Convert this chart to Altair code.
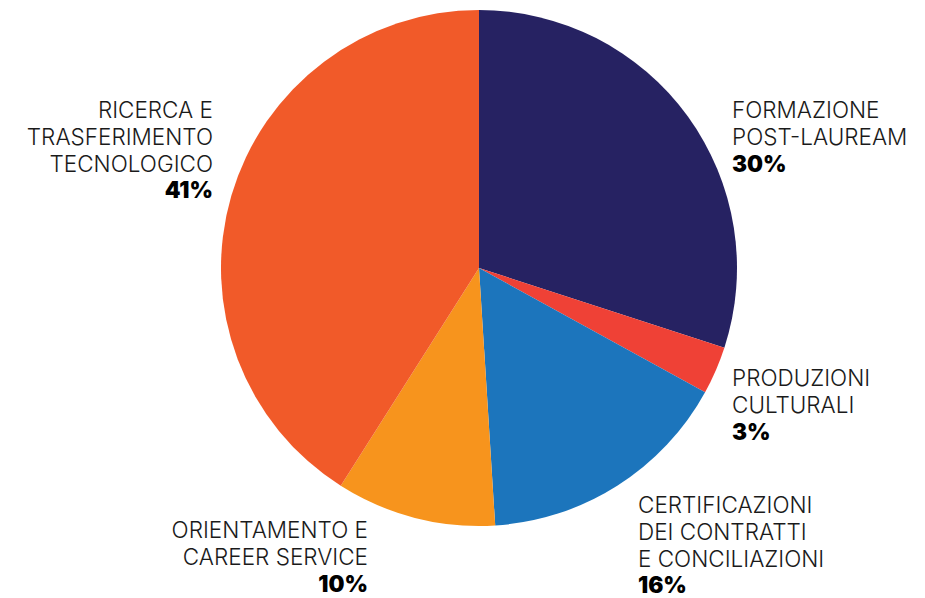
import altair as alt
import pandas as pd

categories = ["FORMAZIONE POST-LAUREAM", "PRODUZIONI CULTURALI",
              "CERTIFICAZIONI DEI CONTRATTI E CONCILIAZIONI",
              "ORIENTAMENTO E CAREER SERVICE",
              "RICERCA E TRASFERIMENTO TECNOLOGICO"]
values = [30, 3, 16, 10, 41]
colors = ["#262262", "#EF4136", "#1C75BC", "#F7941D", "#F15A29"]
label_lines = [
    ["FORMAZIONE", "POST-LAUREAM"],
    ["PRODUZIONI", "CULTURALI"],
    ["CERTIFICAZIONI", "DEI CONTRATTI", "E CONCILIAZIONI"],
    ["ORIENTAMENTO E", "CAREER SERVICE"],
    ["RICERCA E", "TRASFERIMENTO", "TECNOLOGICO"],
]
percent_labels = [f"{v}%" for v in values]

df = pd.DataFrame({"cat": categories, "val": values, "idx": list(range(len(values)))})

CX, CY, R = 471, 260, 258
pie = alt.Chart(df).mark_arc(radius=R, stroke=None).encode(
    theta=alt.Theta("val:Q", stack=True),
    order=alt.Order("idx:Q"),
    color=alt.Color("cat:N", scale=alt.Scale(domain=categories, range=colors), legend=None),
    x=alt.value(CX), y=alt.value(CY),
)

# label anchors (first-line baseline, in plot coordinates) and alignment
anchors = [(724, 110, "left"), (724, 378, "left"), (630, 505, "left"),
           (360, 530, "right"), (205, 110, "right")]
LH = 26.8
FONT = "Inter"
layers = [pie]
for lines, pct, (ax, ay, al) in zip(label_lines, percent_labels, anchors):
    layers.append(alt.Chart(df).mark_text(
        text=lines, x=ax, y=ay, align=al, baseline="alphabetic", lineHeight=LH,
        font=FONT, fontSize=22.5, fontWeight=300, color="#1a1a1a"
    ).encode(opacity=alt.value(1)).transform_filter("datum.idx == 0"))
    layers.append(alt.Chart(df).mark_text(
        text=pct, x=ax, y=ay + LH * len(lines), align=al, baseline="alphabetic",
        font=FONT, fontSize=22.5, fontWeight=900, color="#000000"
    ).encode(opacity=alt.value(1)).transform_filter("datum.idx == 0"))

chart = alt.layer(*layers).properties(
    width=905, height=590, padding=0, autosize="none"
).configure_view(stroke=None)

chart.save("out.html", embed_options={"renderer": "svg", "actions": False})
